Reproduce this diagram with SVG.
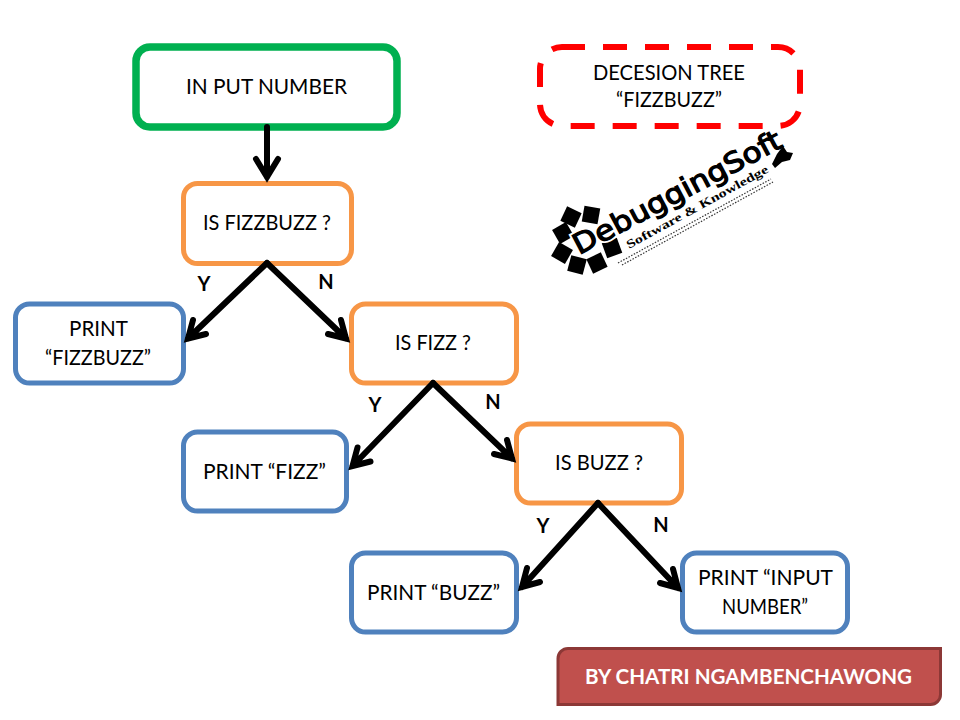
<svg xmlns="http://www.w3.org/2000/svg" width="960" height="720" viewBox="0 0 960 720">
<style>
text{font-family:"Lato","Open Sans","Liberation Sans",sans-serif;font-size:21px;fill:#000;text-anchor:middle}
.box{fill:#fff;stroke-width:5}
.o{stroke:#F79646}
.b{stroke:#4F81BD}
.lab{font-weight:700;font-size:20px}
#connectors path{fill:none;stroke:#000;stroke-width:6;stroke-linecap:round;stroke-linejoin:miter}
.sq{fill:#000}
</style>
<rect width="960" height="720" fill="#fff"/>
<g id="start"><rect x="136" y="47" width="261" height="80" rx="14" fill="#fff" stroke="#00B050" stroke-width="7.500"/><text x="266.500" y="94" textLength="161" lengthAdjust="spacingAndGlyphs">IN PUT NUMBER</text></g>
<g id="title"><rect x="540" y="47" width="260" height="79" rx="22" fill="none" stroke="#FF0000" stroke-width="6" stroke-dasharray="24 18" stroke-dashoffset="1"/><text x="669" y="80" textLength="152" lengthAdjust="spacingAndGlyphs">DECESION TREE</text><text x="669" y="107" textLength="106" lengthAdjust="spacingAndGlyphs">“FIZZBUZZ”</text></g>
<g id="logo">
<g class="sq">
<rect x="-8" y="-8" width="16" height="16" transform="translate(571 217) rotate(25)"/>
<rect x="-8" y="-8" width="16" height="16" transform="translate(591 215) rotate(10)"/>
<rect x="-8" y="-8" width="16" height="16" transform="translate(563 233) rotate(60)"/>
<rect x="-8" y="-8" width="16" height="16" transform="translate(562 253) rotate(30)"/>
<rect x="-8" y="-8" width="16" height="16" transform="translate(577 265) rotate(15)"/>
<rect x="-8" y="-8" width="16" height="16" transform="translate(597 263) rotate(-25)"/>
<rect x="-8" y="-8" width="16" height="16" transform="translate(612 248) rotate(-20)"/>
</g>
<text transform="translate(579 255) rotate(-27.900)" x="0" y="0" textLength="232" lengthAdjust="spacingAndGlyphs" style="font-family:'DejaVu Sans',sans-serif;font-size:28px;text-anchor:start;stroke:#fff;stroke-width:5;paint-order:stroke">DebuggingSoft</text>
<text transform="translate(579 255) rotate(-27.900)" x="0" y="0" textLength="232" lengthAdjust="spacingAndGlyphs" style="font-family:'DejaVu Sans',sans-serif;font-size:28px;text-anchor:start;stroke:#000;stroke-width:1.200">DebuggingSoft</text>
<text transform="translate(629 249) rotate(-28.800)" x="0" y="0" textLength="160" lengthAdjust="spacingAndGlyphs" style="font-family:'Liberation Serif',serif;font-weight:700;font-size:12px;text-anchor:start">Software &amp; Knowledge</text>
<path d="M618 263L771 179M622 265L773 182" fill="none" stroke="#333" stroke-width="1.200" stroke-dasharray="1.500 1.500"/>
<path d="M777 154L783 146L787 152L793 153L790 160L782 162L775 168L772 164Z" fill="#000"/>
</g>
<g id="isfizzbuzz"><rect class="box o" x="183.500" y="183.500" width="168" height="80" rx="14"/><text x="267" y="230" textLength="128" lengthAdjust="spacingAndGlyphs">IS FIZZBUZZ ?</text></g>
<g id="printfizzbuzz"><rect class="box b" x="15.500" y="304" width="168" height="79" rx="14"/><text x="98.500" y="336" textLength="59" lengthAdjust="spacingAndGlyphs">PRINT</text><text x="98" y="365" textLength="106" lengthAdjust="spacingAndGlyphs">“FIZZBUZZ”</text></g>
<g id="isfizz"><rect class="box o" x="351.500" y="304" width="165" height="79" rx="14"/><text x="433" y="350" textLength="76" lengthAdjust="spacingAndGlyphs">IS FIZZ ?</text></g>
<g id="printfizz"><rect class="box b" x="183.500" y="432" width="163" height="79" rx="14"/><text x="264.500" y="479" textLength="123" lengthAdjust="spacingAndGlyphs">PRINT “FIZZ”</text></g>
<g id="isbuzz"><rect class="box o" x="516.500" y="424" width="165" height="79" rx="14"/><text x="599" y="470" textLength="88" lengthAdjust="spacingAndGlyphs">IS BUZZ ?</text></g>
<g id="printbuzz"><rect class="box b" x="351.500" y="553" width="165" height="79" rx="14"/><text x="433.500" y="600" textLength="133" lengthAdjust="spacingAndGlyphs">PRINT “BUZZ”</text></g>
<g id="printinput"><rect class="box b" x="682.500" y="553" width="165" height="79" rx="14"/><text x="765.500" y="585" textLength="135" lengthAdjust="spacingAndGlyphs">PRINT “INPUT</text><text x="765" y="614" textLength="86" lengthAdjust="spacingAndGlyphs">NUMBER”</text></g>
<g id="connectors">
<path d="M267 127V177M256 159L267 177L278 159"/>
<path d="M267 263L188 338.500M193 320L188 338.500L206 334"/>
<path d="M267 263L346 338.500M341 320L346 338.500L328 334"/>
<path d="M433 383L352.500 466M357.500 447.500L352.500 466L370.500 461.500"/>
<path d="M433 383L512 458.500M507 440L512 458.500L494 454"/>
<path d="M598 503L522 587M527 568L522 587L540 582"/>
<path d="M598 503L678 588M673 569L678 588L660 583"/>
</g>
<g id="labels">
<text class="lab" x="204" y="291">Y</text><text class="lab" x="326" y="289">N</text>
<text class="lab" x="375" y="412">Y</text><text class="lab" x="493" y="409">N</text>
<text class="lab" x="543" y="533">Y</text><text class="lab" x="661" y="532">N</text>
</g>
<g id="byline"><path d="M568 648.500H940.500V694A10 10 0 0 1 930.500 704.500H558V658.500A10 10 0 0 1 568 648.500Z" fill="#C0504D" stroke="#8C3836" stroke-width="3"/><text x="748.500" y="684" textLength="327" lengthAdjust="spacingAndGlyphs" style="fill:#fff;font-weight:700;font-size:21px">BY  CHATRI NGAMBENCHAWONG</text></g>
</svg>
